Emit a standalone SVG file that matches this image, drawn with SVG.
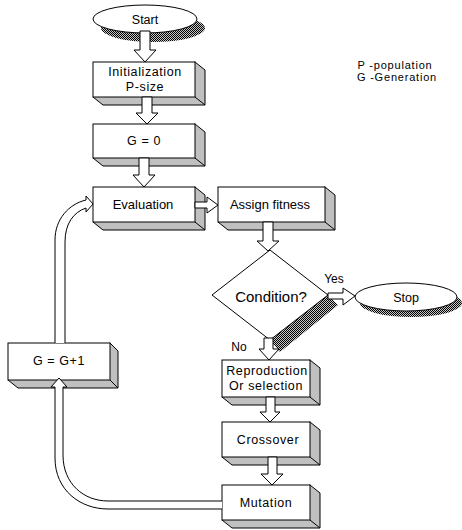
<svg xmlns="http://www.w3.org/2000/svg" width="462" height="530" viewBox="0 0 462 530">
<defs>
<pattern id="hatch" width="2" height="2" patternUnits="userSpaceOnUse">
<rect width="2" height="2" fill="#c8c8c8"/>
<rect width="1" height="1" fill="#000"/>
<rect x="1" y="1" width="1" height="1" fill="#000"/>
</pattern>
</defs>
<style>
text{font-family:"Liberation Sans",Arial,sans-serif;fill:#000;text-anchor:middle}
.t{font-size:12.5px}
.sp{letter-spacing:0.6px}
.side{fill:#c0c0c0;stroke:#000;stroke-width:1}
.front{fill:#fff;stroke:#000;stroke-width:1}
.arr{fill:#fff;stroke:#000;stroke-width:1}
.sh{fill:url(#hatch);stroke:none}
</style>
<rect width="462" height="530" fill="#fff"/>

<g id="legend">
<text x="395" y="69" style="font-size:11px;letter-spacing:0.8px">P -population</text>
<text x="397" y="81" style="font-size:11px;letter-spacing:0.8px">G -Generation</text>
</g>

<g id="start">
<ellipse class="sh" cx="153" cy="28" rx="52" ry="14"/>
<ellipse class="front" cx="145" cy="19" rx="52" ry="14"/>
<text x="145" y="24" style="font-size:12.5px">Start</text>
</g>

<g id="init">
<path class="side" d="M195,62 L205,70 L205,105 L103,105 L93,97 Z"/>
<line x1="195" y1="97" x2="205" y2="105" stroke="#000"/>
<rect class="front" x="93" y="62" width="102" height="35"/>
<text class="t sp" x="145" y="76">Initialization</text>
<text class="t sp" x="145" y="91">P-size</text>
</g>

<g id="g0">
<path class="side" d="M195,124 L205,132 L205,166 L103,166 L93,158 Z"/>
<line x1="195" y1="158" x2="205" y2="166" stroke="#000"/>
<rect class="front" x="93" y="124" width="102" height="34"/>
<text class="t sp" x="144" y="145">G = 0</text>
</g>

<g id="evaluation">
<path class="side" d="M195,187 L205,195 L205,230 L103,230 L93,222 Z"/>
<line x1="195" y1="222" x2="205" y2="230" stroke="#000"/>
<rect class="front" x="93" y="187" width="102" height="35"/>
<text class="t" x="143" y="209" style="font-size:13px">Evaluation</text>
</g>

<g id="assign">
<path class="side" d="M325,187 L335,195 L335,230 L228,230 L218,222 Z"/>
<line x1="325" y1="222" x2="335" y2="230" stroke="#000"/>
<rect class="front" x="218" y="187" width="107" height="35"/>
<text class="t" x="270" y="209" style="font-size:13px">Assign fitness</text>
</g>

<g id="condition">
<path class="sh" d="M328,295 L338,305 L280,352 L270,340 Z"/>
<path class="front" d="M270,250 L328,295 L270,340 L212,295 Z"/>
<text x="271" y="302" style="font-size:15px">Condition?</text>
<text x="334" y="283" style="font-size:12px">Yes</text>
<text x="239" y="351" style="font-size:12px">No</text>
</g>

<g id="stop">
<ellipse class="sh" cx="411" cy="303" rx="51" ry="14"/>
<ellipse class="front" cx="406" cy="297" rx="51" ry="14"/>
<text x="406" y="302" style="font-size:12.5px">Stop</text>
</g>

<g id="reproduction">
<path class="side" d="M310,360 L320,368 L320,405 L232,405 L222,397 Z"/>
<line x1="310" y1="397" x2="320" y2="405" stroke="#000"/>
<rect class="front" x="222" y="360" width="88" height="37"/>
<text class="t sp" x="267" y="375">Reproduction</text>
<text class="t sp" x="266" y="390">Or selection</text>
</g>

<g id="crossover">
<path class="side" d="M310,422 L320,430 L320,465 L232,465 L222,457 Z"/>
<line x1="310" y1="457" x2="320" y2="465" stroke="#000"/>
<rect class="front" x="222" y="422" width="88" height="35"/>
<text class="t sp" x="268" y="444">Crossover</text>
</g>

<g id="mutation">
<path class="side" d="M310,485 L320,493 L320,528 L232,528 L222,520 Z"/>
<line x1="310" y1="520" x2="320" y2="528" stroke="#000"/>
<rect class="front" x="222" y="485" width="88" height="35"/>
<text class="t sp" x="266" y="507">Mutation</text>
</g>

<g id="ginc">
<path class="side" d="M110,343 L118,351 L118,388 L18,388 L8,380 Z"/>
<line x1="110" y1="380" x2="118" y2="388" stroke="#000"/>
<rect class="front" x="8" y="343" width="102" height="37"/>
<text class="t sp" x="59" y="365">G = G+1</text>
</g>

<g id="connectors">
<path class="arr" d="M140,31 L150,31 L150,50 L156,50 L145,62 L134,50 L140,50 Z"/>
<path class="arr" d="M142,97 L152,97 L152,113 L158,113 L147,124 L136,113 L142,113 Z"/>
<path class="arr" d="M139,158 L149,158 L149,175 L155,175 L144,187 L133,175 L139,175 Z"/>
<path class="arr" d="M195,202 L207,202 L207,197 L218,205 L207,213 L207,208 L195,208 Z"/>
<path class="arr" d="M263,222 L273,222 L273,241 L279,241 L268,251 L257,241 L263,241 Z"/>
<path class="arr" d="M328,293 L343,293 L343,288 L355,296 L343,305 L343,299 L328,299 Z"/>
<path class="arr" d="M264,338 L273,338 L273,349 L279,349 L269,360 L259,349 L264,349 Z"/>
<path class="arr" d="M266,397 L275,397 L275,412 L280,412 L270,422 L260,412 L266,412 Z"/>
<path class="arr" d="M268,457 L277,457 L277,474 L283,474 L272,485 L261,474 L268,474 Z"/>
<path class="arr" d="M55,343 L55,240 C55,219 69,204 86,200 L86,196 L93,204 L86,212 L86,208 C74,212 65,223 65,242 L65,343"/>
<path class="arr" d="M222,501 L108,501 C84,501 63,484 63,455 L63,387 L67,387 L59,378 L51,387 L55,387 L55,458 C55,490 80,509 108,509 L222,509"/>
</g>
</svg>
